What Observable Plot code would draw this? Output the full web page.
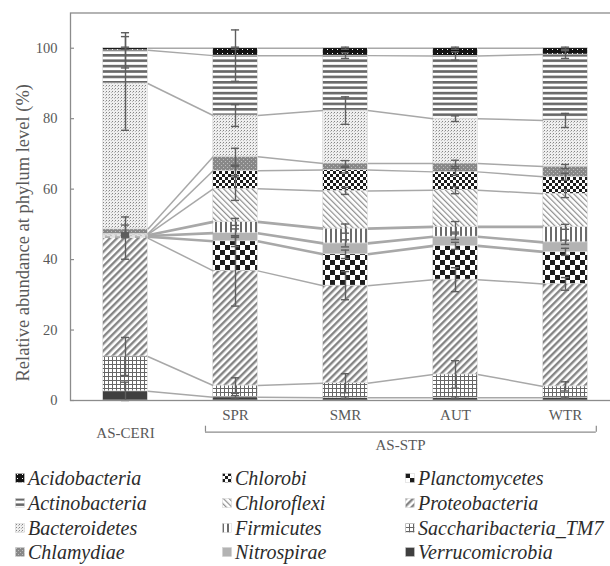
<!DOCTYPE html>
<html><head><meta charset="utf-8">
<script src="https://cdn.jsdelivr.net/npm/d3@7"></script>
<script src="https://cdn.jsdelivr.net/npm/@observablehq/plot@0.6"></script>
<style>
body{margin:0;background:#fff;}
#wrap{position:relative;width:610px;height:566px;font-family:'Liberation Serif','Tinos','Times New Roman','DejaVu Serif',serif;overflow:hidden;}
#chart svg{display:block;}
#chart svg text{font-family:'Liberation Serif','Tinos','Times New Roman','DejaVu Serif',serif;}
#legend{position:absolute;left:0;top:466px;width:610px;height:100px;}
.li{position:absolute;display:flex;align-items:center;height:24px;font-style:italic;font-size:20px;color:#2b2b2b;white-space:nowrap;line-height:24px;}
.li svg{margin-right:3px;flex:none;}
</style></head>
<body>
<svg width="0" height="0" style="position:absolute">
<defs>
<pattern id="pAcido" patternUnits="userSpaceOnUse" width="5" height="4"><rect width="5" height="4" fill="#141414"/><rect x="2" y="1" width="1" height="1" fill="#ffffff"/></pattern>
<pattern id="pActino" patternUnits="userSpaceOnUse" width="8" height="5.4"><rect width="8" height="5.4" fill="#ffffff"/><rect width="8" height="2.6" fill="#686868"/></pattern>
<pattern id="pBact" patternUnits="userSpaceOnUse" width="3" height="3"><rect width="3" height="3" fill="#efefef"/><rect x="1" y="1" width="1" height="1" fill="#858585"/><rect x="0" y="2" width="1" height="1" fill="#bcbcbc"/></pattern>
<pattern id="pChlam" patternUnits="userSpaceOnUse" width="4" height="4"><rect width="4" height="4" fill="#888888"/><rect x="1" y="1" width="1" height="1" fill="#bdbdbd"/><rect x="3" y="3" width="1" height="1" fill="#bdbdbd"/></pattern>
<pattern id="pChlorobi" patternUnits="userSpaceOnUse" width="6" height="6"><rect width="6" height="6" fill="#ffffff"/><rect width="3" height="3" fill="#1c1c1c"/><rect x="3" y="3" width="3" height="3" fill="#1c1c1c"/></pattern>
<pattern id="pChloroflexi" patternUnits="userSpaceOnUse" width="4" height="4" patternTransform="rotate(-45)"><rect width="4" height="4" fill="#ffffff"/><rect width="1.2" height="4" fill="#8e8e8e"/></pattern>
<pattern id="pFirm" patternUnits="userSpaceOnUse" width="5" height="5"><rect width="5" height="5" fill="#ffffff"/><rect width="2" height="5" fill="#6c6c6c"/></pattern>
<pattern id="pPlancto" patternUnits="userSpaceOnUse" width="10" height="10"><rect width="10" height="10" fill="#ffffff"/><rect width="5" height="5" fill="#1c1c1c"/><rect x="5" y="5" width="5" height="5" fill="#1c1c1c"/></pattern>
<pattern id="pProteo" patternUnits="userSpaceOnUse" width="5" height="5" patternTransform="rotate(45)"><rect width="5" height="5" fill="#ffffff"/><rect width="2.4" height="5" fill="#858585"/></pattern>
<pattern id="pTM7" patternUnits="userSpaceOnUse" width="4" height="4"><rect width="4" height="4" fill="#ffffff"/><rect width="4" height="1" fill="#666666"/><rect width="1" height="4" fill="#666666"/></pattern>
</defs>
</svg>
<div id="wrap"><div id="chart"></div><div id="legend"></div></div>
<script>
// ---- data ----
const samples = ["AS-CERI", "SPR", "SMR", "AUT", "WTR"];
const stpSamples = ["SPR", "SMR", "AUT", "WTR"];
const groupLabels = ["AS-CERI", "AS-STP"];
const phyla = ["Acidobacteria", "Actinobacteria", "Bacteroidetes", "Chlamydiae",
  "Chlorobi", "Chloroflexi", "Firmicutes", "Nitrospirae",
  "Planctomycetes", "Proteobacteria", "Saccharibacteria_TM7", "Verrucomicrobia"];
const yTicks = [0, 20, 40, 60, 80, 100];
const yTitle = "Relative abundance at phylum level (%)";

// relative abundance (%) per sample: AS-CERI, SPR, SMR, AUT, WTR
const acidobacteria       = [0.6, 2.1, 2.1, 2.2, 1.8];
const actinobacteria      = [9.4, 17.0, 15.6, 17.8, 18.7];
const bacteroidetes       = [41.4, 11.7, 15.0, 12.7, 13.1];
const chlamydiae          = [1.3, 4.0, 1.9, 2.4, 2.9];
const chlorobi            = [0.2, 5.1, 5.9, 5.2, 4.8];
const chloroflexi         = [0.2, 9.4, 10.7, 10.4, 9.4];
const firmicutes          = [0.2, 3.2, 4.2, 2.8, 4.4];
const nitrospirae         = [0.2, 2.3, 3.1, 2.6, 2.7];
const planctomycetes      = [0.4, 8.4, 8.9, 9.6, 9.1];
const proteobacteria      = [33.6, 32.55, 27.7, 26.9, 29.1];
const saccharibacteriaTM7 = [9.9, 3.35, 4.15, 6.65, 3.2];
const verrucomicrobia     = [2.6, 0.9, 0.75, 0.75, 0.8];

// error bars (± %), drawn at each segment's cumulative top
const errAcidobacteria       = [0.3, 0.3, 0.3, 0.3, 0.3];
const errActinobacteria      = [5.0, 7.3, 0.8, 1.2, 1.1];
const errBacteroidetes       = [13.3, 3.1, 3.9, 0.8, 2.0];
const errChlamydiae          = [1.2, 2.4, 0.8, 0.9, 0.6];
const errChlorobi            = [0.3, 1.3, 0.8, 1.0, 1.0];
const errChloroflexi         = [0.3, 3.3, 1.0, 1.0, 1.1];
const errFirmicutes          = [0.3, 1.0, 1.3, 1.5, 0.7];
const errNitrospirae         = [0.2, 1.2, 1.0, 0.8, 0.6];
const errPlanctomycetes      = [0.3, 1.5, 1.2, 1.0, 1.0];
const errProteobacteria      = [6.0, 10.0, 4.0, 3.4, 1.8];
const errSaccharibacteriaTM7 = [5.4, 2.2, 2.7, 3.9, 1.3];
const errVerrucomicrobia     = [2.6, 0.5, 0.3, 0.3, 0.2];

const values = [acidobacteria, actinobacteria, bacteroidetes, chlamydiae, chlorobi, chloroflexi,
  firmicutes, nitrospirae, planctomycetes, proteobacteria, saccharibacteriaTM7, verrucomicrobia];
const errors = [errAcidobacteria, errActinobacteria, errBacteroidetes, errChlamydiae, errChlorobi,
  errChloroflexi, errFirmicutes, errNitrospirae, errPlanctomycetes, errProteobacteria,
  errSaccharibacteriaTM7, errVerrucomicrobia];
const fills = ["url(#pAcido)", "url(#pActino)", "url(#pBact)", "url(#pChlam)", "url(#pChlorobi)",
  "url(#pChloroflexi)", "url(#pFirm)", "#b3b3b3", "url(#pPlancto)", "url(#pProteo)", "url(#pTM7)", "#3f3f3f"];

// ---- derived tables ----
const HW = 0.203;   // half bar width (band units)
const CAP = 0.037;  // half cap width
const stackOrder = phyla.map((p, k) => k).reverse(); // Verrucomicrobia at the bottom
const segments = [], errs = [], tops = phyla.map(() => []);
samples.forEach((s, i) => {
  let cum = 0;
  for (const k of stackOrder) {
    const v = values[k][i];
    segments.push({sample: s, i, phylum: phyla[k], y1: cum, y2: cum + v});
    cum += v;
    tops[k][i] = cum;
    errs.push({i, lo: cum - errors[k][i], hi: cum + errors[k][i]});
  }
});
const thick = new Set(["Firmicutes", "Nitrospirae", "Planctomycetes"]);
const links = [];
phyla.forEach((p, k) => {
  for (let i = 0; i < samples.length - 1; i++)
    links.push({p, thick: thick.has(p), x1: i + HW, x2: i + 1 - HW, y1: tops[k][i], y2: tops[k][i + 1]});
});

const axisGray = "#8c8c8c", textGray = "#595959";
const serif = "'Liberation Serif', 'Tinos', 'Times New Roman', 'DejaVu Serif', serif";
const bx1 = samples.indexOf("SPR") - 0.273, bx2 = samples.indexOf("WTR") + 0.28;

const chart = Plot.plot({
  width: 610, height: 466,
  marginLeft: 70, marginRight: -10, marginTop: 12.5, marginBottom: 66,
  style: {fontFamily: serif, background: "#fff"},
  x: {type: "linear", domain: [-0.5, 4.5], range: [70, 620], axis: null},
  y: {domain: [0, 110], range: [400, 12.5]},
  color: {type: "ordinal", domain: phyla, range: fills},
  marks: [
    Plot.rect(segments, {x1: d => d.i - HW, x2: d => d.i + HW, y1: "y1", y2: "y2", fill: "phylum", stroke: "#dcdcdc", strokeWidth: 0.6}),
    Plot.link(links.filter(d => !d.thick), {x1: "x1", y1: "y1", x2: "x2", y2: "y2", stroke: "#a8a8a8", strokeWidth: 1.5}),
    Plot.link(links.filter(d => d.thick), {x1: "x1", y1: "y1", x2: "x2", y2: "y2", stroke: "#a8a8a8", strokeWidth: 2.6}),
    Plot.ruleX(errs, {x: "i", y1: "lo", y2: "hi", stroke: "#5e5e5e", strokeWidth: 1.4}),
    Plot.ruleY(errs, {y: "lo", x1: d => d.i - CAP, x2: d => d.i + CAP, stroke: "#5e5e5e", strokeWidth: 1.4}),
    Plot.ruleY(errs, {y: "hi", x1: d => d.i - CAP, x2: d => d.i + CAP, stroke: "#5e5e5e", strokeWidth: 1.4}),
    Plot.frame({stroke: axisGray, strokeWidth: 1.3}),
    Plot.ruleY(yTicks, {x1: -0.5, x2: -0.5 + 4 / 110, stroke: axisGray, strokeWidth: 1.2}),
    Plot.axisY({ticks: yTicks, tickSize: 0, tickPadding: 13, fontSize: 14.5, color: textGray}),
    Plot.text([yTitle], {text: d => d, frameAnchor: "left", textAnchor: "middle", rotate: -90, dx: -47.3, dy: 26, fontSize: 18.5, fill: textGray}),
    Plot.text(stpSamples, {x: d => samples.indexOf(d), text: d => d, frameAnchor: "bottom", dy: 19, fontSize: 15, fill: textGray}),
    Plot.text([groupLabels[0]], {x: d => samples.indexOf(d), text: d => d, frameAnchor: "bottom", dy: 37, fontSize: 15, fill: textGray}),
    Plot.text([groupLabels[1]], {x: () => (samples.indexOf("SPR") + samples.indexOf("WTR")) / 2, text: d => d, frameAnchor: "bottom", dy: 49, fontSize: 15, fill: textGray}),
    Plot.ruleY([0], {x1: bx1, x2: bx2, dy: 31.7, stroke: axisGray, strokeWidth: 1.2}),
    Plot.ruleX([bx1, bx2], {y1: 0, y2: 1.7, dy: 31.7, stroke: axisGray, strokeWidth: 1.2})
  ]
});
document.getElementById("chart").appendChild(chart);

// legend: 3 columns x 4 rows
const colSwatchX = [15, 222, 405];
const rowCenterY = [12, 37, 62, 86];
const legend = document.getElementById("legend");
phyla.forEach((p, k) => {
  const col = Math.floor(k / 4), row = k % 4;
  const div = document.createElement("div");
  div.className = "li";
  div.style.left = colSwatchX[col] + "px";
  div.style.top = (rowCenterY[row] - 12) + "px";
  div.innerHTML = `<svg width="10" height="10"><rect x="0.5" y="0.5" width="9" height="9" fill="${fills[k]}" stroke="#d0d0d0" stroke-width="0.5"/></svg><span>${p}</span>`;
  legend.appendChild(div);
});
</script>
</body></html>
